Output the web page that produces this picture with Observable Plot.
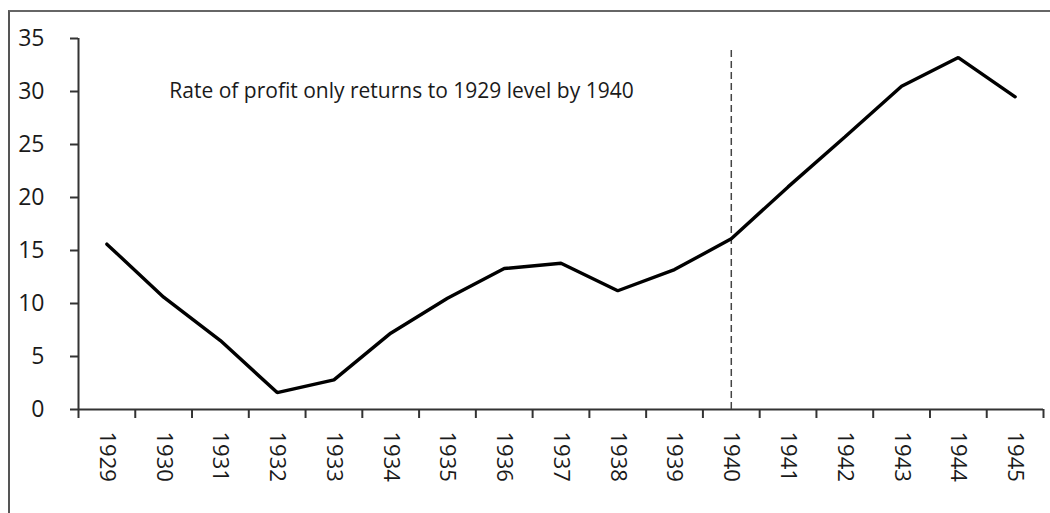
<!DOCTYPE html>
<html>
<head>
<meta charset="utf-8">
<script src="https://cdn.jsdelivr.net/npm/d3@7"></script>
<script src="https://cdn.jsdelivr.net/npm/@observablehq/plot@0.6"></script>
<style>
  html, body { margin: 0; padding: 0; background: #fff; }
  #wrap { position: relative; width: 1050px; height: 513px; overflow: hidden; }
  #frame { position: absolute; left: 8px; top: 10px; width: 1100px; height: 600px;
           border-top: 2px solid #666; border-left: 2px solid #555; box-sizing: border-box; pointer-events: none; }
</style>
</head>
<body>
<div id="wrap"><div id="frame"></div></div>
<script>
const years = [1929,1930,1931,1932,1933,1934,1935,1936,1937,1938,1939,1940,1941,1942,1943,1944,1945];
const rates = [15.6,10.6,6.5,1.6,2.8,7.2,10.5,13.3,13.8,11.2,13.2,16.1,21.0,25.7,30.5,33.2,29.5];
const yTicks = [0,5,10,15,20,25,30,35];
const markerYear = 1940;
const annotation = "Rate of profit only returns to 1929 level by 1940";

const boundaries = years.map(y => y - 0.5).concat([years[years.length - 1] + 0.5]);
const data = years.map((y, i) => ({year: y, rate: rates[i]}));

const chart = Plot.plot({
  width: 1050,
  height: 513,
  marginLeft: 78,
  marginRight: 7,
  marginTop: 38,
  marginBottom: 104,
  style: {fontFamily: "'Open Sans', sans-serif", color: "#1a1a1a", background: "transparent"},
  x: {type: "linear", domain: [boundaries[0], boundaries[boundaries.length - 1]]},
  y: {domain: [0, 35]},
  marks: [
    Plot.axisY({ticks: yTicks, tickSize: 8, tickPadding: 26, fontSize: 23, strokeWidth: 2, stroke: "#333", label: null, tickFormat: d => String(d)}),
    Plot.axisX({ticks: boundaries, tickSize: 9, tickFormat: () => "", strokeWidth: 2, stroke: "#333", label: null}),
    Plot.axisX({ticks: years, tickSize: 0, tickPadding: 22, tickRotate: 90, fontSize: 22, label: null, tickFormat: d => String(d)}),
    Plot.ruleX([boundaries[0]], {y1: 0, y2: 35, stroke: "#333", strokeWidth: 2}),
    Plot.ruleY([0], {stroke: "#333", strokeWidth: 2}),
    Plot.ruleX([markerYear], {y1: 0, y2: 34.1, stroke: "#444", strokeWidth: 1.5, strokeDasharray: "7,4"}),
    Plot.lineY(data, {x: "year", y: "rate", stroke: "#000", strokeWidth: 3.4, strokeLinejoin: "miter"}),
    Plot.text([annotation], {x: 1930.1, y: 30, text: d => d, textAnchor: "start", fontSize: 21, fill: "#1a1a1a"})
  ]
});
chart.style.position = "absolute";
chart.style.left = "0";
chart.style.top = "0";
document.getElementById("wrap").prepend(chart);
</script>
</body>
</html>
